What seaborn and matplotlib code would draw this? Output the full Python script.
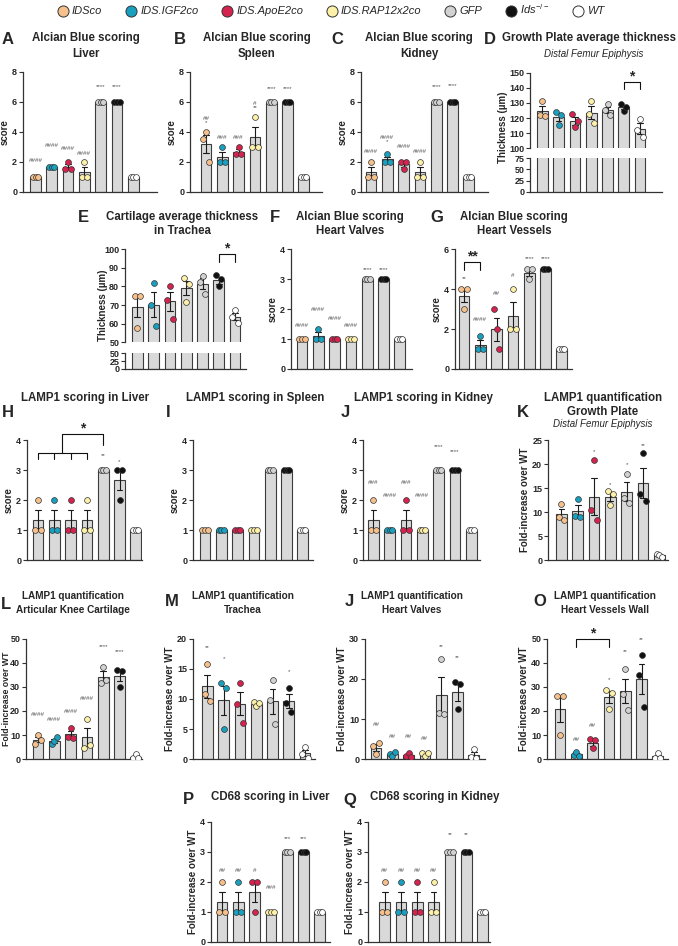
import warnings
import matplotlib
matplotlib.use('Agg')
import matplotlib.pyplot as plt
from matplotlib.lines import Line2D
import pandas as pd
import seaborn as sns

warnings.filterwarnings('ignore')

groups = ['IDSco', 'IDS.IGF2co', 'IDS.ApoE2co', 'IDS.RAP12x2co', 'GFP', 'Ids-/-', 'WT']
legend_labels = ['IDSco', 'IDS.IGF2co', 'IDS.ApoE2co', 'IDS.RAP12x2co', 'GFP',
                 r'$\mathit{Ids}^{-/-}$', 'WT']
group_colors = ['#F5C08C', '#1AA0BF', '#D5234F', '#FDF0A8', '#D2D2D2', '#111111', '#FFFFFF']

# A - Alcian Blue liver
a_vals = [[1, 1, 1], [1.67, 1.67, 1.67], [1.5, 2, 1.5], [1, 2, 1], [6, 6, 6], [6, 6, 6], [1, 1, 1]]
a_marks = ['####', '####', '####', '####', '****', '****', '']
a_mark_y = [2.05, 3.1, 2.85, 2.55, 7.0, 7.0, 0]

# B - Alcian Blue spleen
b_vals = [[3.5, 4, 2], [2, 3, 2], [2.5, 3, 2.5], [3, 5, 3], [6, 6, 6], [6, 6, 6], [1, 1, 1]]
b_marks = ['##\n*', '###', '###', '#\n**', '****', '****', '']
b_mark_y = [4.75, 3.6, 3.6, 5.75, 6.85, 6.85, 0]

# C - Alcian Blue kidney
c_vals = [[1, 2, 1], [2, 2.5, 2], [2, 1.5, 2], [1, 2, 1], [6, 6, 6], [6, 6, 6], [1, 1, 1]]
c_marks = ['####', '####\n*', '####', '####', '****', '****', '']
c_mark_y = [2.65, 3.5, 3.0, 2.65, 7.0, 7.05, 0]

# D - growth plate thickness
d_vals = [[122, 131, 121.5], [124, 115.5, 122], [123, 114, 118], [122.5, 131.5, 116.5],
          [125.5, 129, 122], [129.5, 124.5, 127.5], [112, 119.5, 107.5]]
d_sig = (5, 6, 144, 139, '*')

# E - trachea cartilage thickness
e_vals = [[75, 57.5, 75], [70, 82, 58.5], [73, 80.5, 62.5], [84.5, 71.5, 81.5],
          [82.5, 85.8, 76], [86, 80, 84], [63.5, 67.5, 60.5]]
e_sig = (5, 6, 97.3, 93.4, '*')

# F - Alcian Blue heart valves
f_vals = [[1, 1, 1], [1, 1.33, 1], [1, 1, 1], [1, 1, 1], [3, 3, 3], [3, 3, 3], [1, 1, 1]]
f_marks = ['####', '####', '####', '####', '****', '****', '']
f_mark_y = [1.47, 1.99, 1.68, 1.47, 3.31, 3.31, 0]

# G - Alcian Blue heart vessels
g_vals = [[4, 3, 4], [1, 1.67, 1], [3, 2, 1], [2, 4, 2], [5, 4.5, 5], [5, 5, 5], [1, 1, 1]]
g_marks = ['**', '####', '##', '#', '****', '****', '']
g_mark_y = [4.55, 2.46, 3.76, 4.67, 5.52, 5.52, 0]
g_sig = (0, 1, 5.35, 4.96, '**')

# H - LAMP1 liver
h_vals = [[1, 2, 1], [1, 2, 1], [1, 2, 1], [1, 2, 1], [3, 3, 3], [3, 2, 3], [1, 1, 1]]
h_marks = ['', '', '', '', '**', '*', '']
h_mark_y = [0, 0, 0, 0, 3.47, 3.28, 0]

# I - LAMP1 spleen
i_vals = [[1, 1, 1], [1, 1, 1], [1, 1, 1], [1, 1, 1], [3, 3, 3], [3, 3, 3], [1, 1, 1]]

# J - LAMP1 kidney
j_vals = [[1, 2, 1], [1, 1, 1], [1, 2, 1], [1, 1, 1], [3, 3, 3], [3, 3, 3], [1, 1, 1]]
j_marks = ['###', '####', '###', '####', '****', '****', '']
j_mark_y = [2.6, 2.15, 2.6, 2.15, 3.78, 3.61, 0]

# K - LAMP1 growth plate
k_vals = [[9, 11.6, 8.3], [9.1, 12.7, 9], [10.4, 20.8, 8.4], [14.4, 11.4, 13.8],
          [13, 18, 11.8], [13.8, 22.2, 12.3], [1.3, 1, 0.7]]
k_marks = ['', '', '*', '*', '*', '**', '']
k_mark_y = [0, 0, 22.6, 15.8, 19.8, 23.8, 0]

# L - LAMP1 articular knee cartilage
l_vals = [[6.2, 9.8, 7.8], [6.3, 7.6, 9], [9, 13, 8.8], [4.5, 16.5, 6],
          [31.5, 38.5, 33], [37.2, 30, 36.8], [0.5, 2.2, 0.3]]
l_marks = ['####', '####', '####', '####', '****', '****', '']
l_mark_y = [18.75, 16.5, 19.7, 25.3, 46.8, 44.7, 0]

# M - LAMP1 trachea
m_vals = [[10.8, 15.8, 9.7], [12.6, 5, 11.8], [9.1, 12.6, 6], [9.5, 8.8, 9.4],
          [9.8, 13.2, 5.9], [9.3, 11.8, 7.8], [0.9, 2, 0.2]]
m_marks = ['**', '*', '', '', '', '*', '']
m_mark_y = [18.6, 16.8, 0, 0, 0, 14.6, 0]

# J (second) - LAMP1 heart valves
n_vals = [[3.2, 1.2, 4], [1.3, 0.8, 1.7], [0.8, 1.5, 0.5], [1.6, 0.7, 1.5],
          [11.5, 25, 11.2], [19.2, 12.4, 18.8], [0.4, 2.4, 0.2]]
n_marks = ['##', '##', '##', '##', '**', '**', '']
n_mark_y = [8.7, 5.75, 5.75, 5.2, 28.1, 25.4, 0]

# O - LAMP1 heart vessels wall
o_vals = [[26.4, 9.8, 26.3], [1.8, 3, 1.4], [8.4, 4.4, 7.8], [28.7, 21, 27.5],
          [27, 37.5, 20.5], [34.8, 43.5, 21.7], [0.6, 2.5, 0.4]]
o_marks = ['', '##', '##', '*', '**', '**', '']
o_mark_y = [0, 8.3, 13.9, 33.3, 44.7, 49.9, 0]
o_sig = (1, 3, 49.9, 46.8, '*')

# P - CD68 liver
p_vals = [[1, 2, 1], [1, 2, 1], [2, 1, 2], [1, 1, 1], [3, 3, 3], [3, 3, 3], [1, 1, 1]]
p_marks = ['##', '##', '#', '###', '***', '***', '']
p_mark_y = [2.39, 2.39, 2.39, 1.81, 3.44, 3.44, 0]

# Q - CD68 kidney
q_vals = [[1, 2, 1], [1, 2, 1], [1, 2, 1], [1, 2, 1], [3, 3, 3], [3, 3, 3], [1, 1, 1]]
q_marks = ['##', '##', '##', '##', '**', '**', '']
q_mark_y = [2.39, 2.39, 2.39, 2.39, 3.58, 3.58, 0]

W, H = 678, 946
STEP = 16.3  # px between bar centres
bar_face = '#D9D9D9'
bar_edge = '#3C3C3C'
# the outer two levels stay empty, they only narrow the dodge spread
rep_levels = ['pad0', 'r0', 'r1', 'r2', 'pad1']

sns.set_theme(style='ticks')
plt.rcParams['font.family'] = ['Liberation Sans', 'DejaVu Sans']
plt.rcParams['mathtext.fontset'] = 'custom'
plt.rcParams['mathtext.it'] = 'Liberation Sans:italic'
plt.rcParams['mathtext.rm'] = 'Liberation Sans'

fig = plt.figure(figsize=(W / 100, H / 100), dpi=100)


def to_frame(vals):
    rows = [(g, rep_levels[1 + k], v) for g, vs in zip(groups, vals) for k, v in enumerate(vs)]
    return pd.DataFrame(rows, columns=['group', 'rep', 'value'])


def new_axes(x0, x1, top, bot):
    return fig.add_axes([x0 / W, 1 - bot / H, (x1 - x0) / W, (bot - top) / H])


def draw(ax, vals, err=True, dots=True):
    df = to_frame(vals)
    sns.barplot(data=df, x='group', y='value', order=groups, color=bar_face, saturation=1,
                edgecolor=bar_edge, linewidth=0.8, width=0.66,
                errorbar='se' if err else None, capsize=0.35,
                err_kws={'color': '#1a1a1a', 'linewidth': 0.8}, ax=ax)
    if dots:
        for g, c in zip(groups, group_colors):
            sub = df[df['group'] == g]
            sns.stripplot(data=sub, x='group', y='value', order=groups, hue='rep',
                          hue_order=rep_levels, palette={r: c for r in rep_levels},
                          dodge=True, jitter=False, size=4.2, edgecolor='#333333',
                          linewidth=0.5, legend=False, ax=ax, zorder=4)


def style(ax, x0, x1, margin, ylim, yticks, ylabel='', bottom=True):
    left = -margin / STEP
    ax.set_xlim(left, left + (x1 - x0) / STEP)
    ax.set_ylim(*ylim)
    ax.set_yticks(yticks)
    ax.set_yticklabels([str(t) for t in yticks], fontsize=6.5, fontweight='bold')
    ax.set_xticks([])
    ax.set_xlabel('')
    ax.set_ylabel(ylabel, fontsize=7, fontweight='bold', labelpad=1.5)
    sns.despine(ax=ax, bottom=not bottom)
    for sp in ax.spines.values():
        sp.set_color('#333333')
        sp.set_linewidth(0.9)
    ax.tick_params(axis='y', length=3, width=0.8, pad=1.2, color='#333333')
    ax.patch.set_alpha(0)


def add_marks(ax, marks, ys):
    for i, (m, y) in enumerate(zip(marks, ys)):
        if m:
            ax.text(i, y, m, ha='center', va='center', fontsize=4.5, color='#555555',
                    linespacing=0.8, clip_on=False, zorder=6)


def add_bracket(ax, sig, star_size=10):
    xa, xb, y, y0, label = sig
    ax.plot([xa, xa, xb, xb], [y0, y, y, y0], color='#111111', lw=0.8, clip_on=False)
    ax.annotate(label, ((xa + xb) / 2, y), xytext=(0, -1), textcoords='offset points',
                ha='center', va='bottom', fontsize=star_size, fontweight='bold',
                annotation_clip=False)


def simple_panel(box, vals, ylim, yticks, ylabel, marks=None, mark_y=None):
    x0, x1, top, bot, margin = box
    ax = new_axes(x0, x1, top, bot)
    draw(ax, vals)
    style(ax, x0, x1, margin, ylim, yticks, ylabel)
    if marks:
        add_marks(ax, marks, mark_y)
    return ax


def broken_panel(x0, x1, margin, top_box, bot_box, vals, top_lim, top_ticks, bot_lim, bot_ticks):
    ax_t = new_axes(x0, x1, *top_box)
    draw(ax_t, vals)
    style(ax_t, x0, x1, margin, top_lim, top_ticks, bottom=False)
    ax_b = new_axes(x0, x1, *bot_box)
    draw(ax_b, vals, err=False, dots=False)
    style(ax_b, x0, x1, margin, bot_lim, bot_ticks)
    return ax_t, ax_b


def title(x, y, text, size=8.3, style_='normal', weight='bold', spacing=1.35):
    fig.text(x / W, 1 - y / H, text, ha='center', va='center', fontsize=size,
             fontweight=weight, fontstyle=style_, linespacing=spacing)


def letter(x, y, text):
    fig.text(x / W, 1 - y / H, text, ha='center', va='center', fontsize=12, fontweight='bold')


score_ticks8 = [0, 2, 4, 6, 8]
score_ticks4 = [0, 1, 2, 3, 4]
fold = 'Fold-increase over WT'

# row 1
simple_panel((23, 157, 71.7, 191.7, 12.5), a_vals, (0, 8), score_ticks8, 'score', a_marks, a_mark_y)
simple_panel((190, 322, 71.7, 191.7, 16), b_vals, (0, 8), score_ticks8, 'score', b_marks, b_mark_y)
simple_panel((361, 488, 71.7, 191.7, 10), c_vals, (0, 8), score_ticks8, 'score', c_marks, c_mark_y)
ax_dt, ax_db = broken_panel(530, 662, 12.3, (72.7, 148.3), (158.3, 191.7), d_vals,
                            (100, 150), [100, 110, 120, 130, 140, 150], (0, 75), [0, 25, 50, 75])
add_bracket(ax_dt, d_sig)
fig.text(503 / W, 1 - 127 / H, 'Thickness (µm)', rotation=90, ha='center', va='center',
         fontsize=7, fontweight='bold')

# row 2
ax_et, ax_eb = broken_panel(125, 246, 12.3, (249.3, 342.3), (353.3, 369), e_vals,
                            (50, 100), [50, 60, 70, 80, 90, 100], (0, 50), [0, 25, 50])
add_bracket(ax_et, e_sig)
fig.text(103 / W, 1 - 305 / H, 'Thickness (µm)', rotation=90, ha='center', va='center',
         fontsize=7, fontweight='bold')
simple_panel((291, 412, 249.3, 369, 11), f_vals, (0, 4), score_ticks4, 'score', f_marks, f_mark_y)
ax_g = simple_panel((455, 572, 249.3, 369, 9), g_vals, (0, 6), [0, 2, 4, 6], 'score', g_marks, g_mark_y)
add_bracket(ax_g, g_sig)

# row 3
ax_h = simple_panel((27, 142, 440, 560, 11), h_vals, (0, 4), score_ticks4, 'score', h_marks, h_mark_y)
for xi in range(4):
    ax_h.plot([xi, xi], [3.36, 3.56], color='#111111', lw=0.8, clip_on=False)
ax_h.plot([0, 3], [3.56, 3.56], color='#111111', lw=0.8, clip_on=False)
ax_h.plot([1.5, 1.5, 4, 4], [3.56, 4.19, 4.19, 3.83], color='#111111', lw=0.8, clip_on=False)
ax_h.annotate('*', (2.75, 4.19), xytext=(0, -1), textcoords='offset points', ha='center',
              va='bottom', fontsize=10, fontweight='bold', annotation_clip=False)
simple_panel((193, 313, 440, 560, 12), i_vals, (0, 4), score_ticks4, 'score')
simple_panel((363, 480, 440, 560, 10.4), j_vals, (0, 4), score_ticks4, 'score', j_marks, j_mark_y)
simple_panel((548, 668, 440, 560, 13.4), k_vals, (0, 25), [0, 5, 10, 15, 20, 25], fold,
             k_marks, k_mark_y)

# row 4
ax_l = simple_panel((26, 142, 639, 759, 12), l_vals, (0, 50), [0, 10, 20, 30, 40, 50], fold,
                    l_marks, l_mark_y)
ax_l.yaxis.label.set_fontsize(6.3)
ax_l.yaxis.set_label_coords((11 - 26) / 116, 0.5)
simple_panel((193, 315, 639, 759, 14.3), m_vals, (0, 20), [0, 5, 10, 15, 20], fold, m_marks, m_mark_y)
simple_panel((365, 485, 639, 759, 11), n_vals, (0, 30), [0, 10, 20, 30], fold, n_marks, n_mark_y)
ax_o = simple_panel((547, 668, 639, 759, 13), o_vals, (0, 50), [0, 10, 20, 30, 40, 50], fold,
                    o_marks, o_mark_y)
add_bracket(ax_o, o_sig)

# row 5
simple_panel((211, 330, 821.7, 941.7, 11), p_vals, (0, 4), score_ticks4, fold, p_marks, p_mark_y)
simple_panel((368, 490, 821.7, 941.7, 16.7), q_vals, (0, 4), score_ticks4, fold, q_marks, q_mark_y)

# titles and panel letters
title(86, 46, 'Alcian Blue scoring\nLiver')
title(257, 46, 'Alcian Blue scoring\nSpleen')
title(419, 46, 'Alcian Blue scoring\nKidney')
title(589, 38, 'Growth Plate average thickness')
title(594, 54, 'Distal Femur Epiphysis', size=7, style_='italic', weight='normal')
title(182, 224, 'Cartilage average thickness\nin Trachea', spacing=1.2)
title(350, 224, 'Alcian Blue scoring\nHeart Valves', spacing=1.2)
title(514, 224, 'Alcian Blue scoring\nHeart Vessels', spacing=1.2)
title(85, 398, 'LAMP1 scoring in Liver')
title(255, 398, 'LAMP1 scoring in Spleen')
title(423, 398, 'LAMP1 scoring in Kidney')
title(603, 405, 'LAMP1 quantification\nGrowth Plate', spacing=1.2)
title(603, 424, 'Distal Femur Epiphysis', size=7, style_='italic', weight='normal')
title(73, 603, 'LAMP1 quantification\nArticular Knee Cartilage', size=7.2, spacing=1.4)
title(243, 603, 'LAMP1 quantification\nTrachea', size=7.2, spacing=1.4)
title(412, 603, 'LAMP1 quantification\nHeart Valves', size=7.2, spacing=1.4)
title(605, 603, 'LAMP1 quantification\nHeart Vessels Wall', size=7.2, spacing=1.4)
title(270, 797, 'CD68 scoring in Liver')
title(435, 797, 'CD68 scoring in Kidney')

for x, y, t in [(8, 40, 'A'), (180, 40, 'B'), (337, 40, 'C'), (490, 40, 'D'),
                (83, 217, 'E'), (275, 217, 'F'), (437, 217, 'G'),
                (8, 412, 'H'), (168, 412, 'I'), (345, 412, 'J'), (523, 412, 'K'),
                (6, 604, 'L'), (172, 602, 'M'), (349, 602, 'J'), (540, 602, 'O'),
                (188, 799, 'P'), (350, 800, 'Q')]:
    letter(x, y, t)

handles = [Line2D([0], [0], marker='o', ls='', markerfacecolor=c, markeredgecolor='#333333',
                  markeredgewidth=0.7, markersize=8) for c in group_colors]
fig.legend(handles, legend_labels, loc='center', bbox_to_anchor=(331 / W, 1 - 9.5 / H), ncol=7,
           frameon=False, prop={'style': 'italic', 'size': 8}, handletextpad=0.3,
           columnspacing=2.1, handlelength=1.0, borderpad=0)

fig.savefig('out.png', dpi=100)
